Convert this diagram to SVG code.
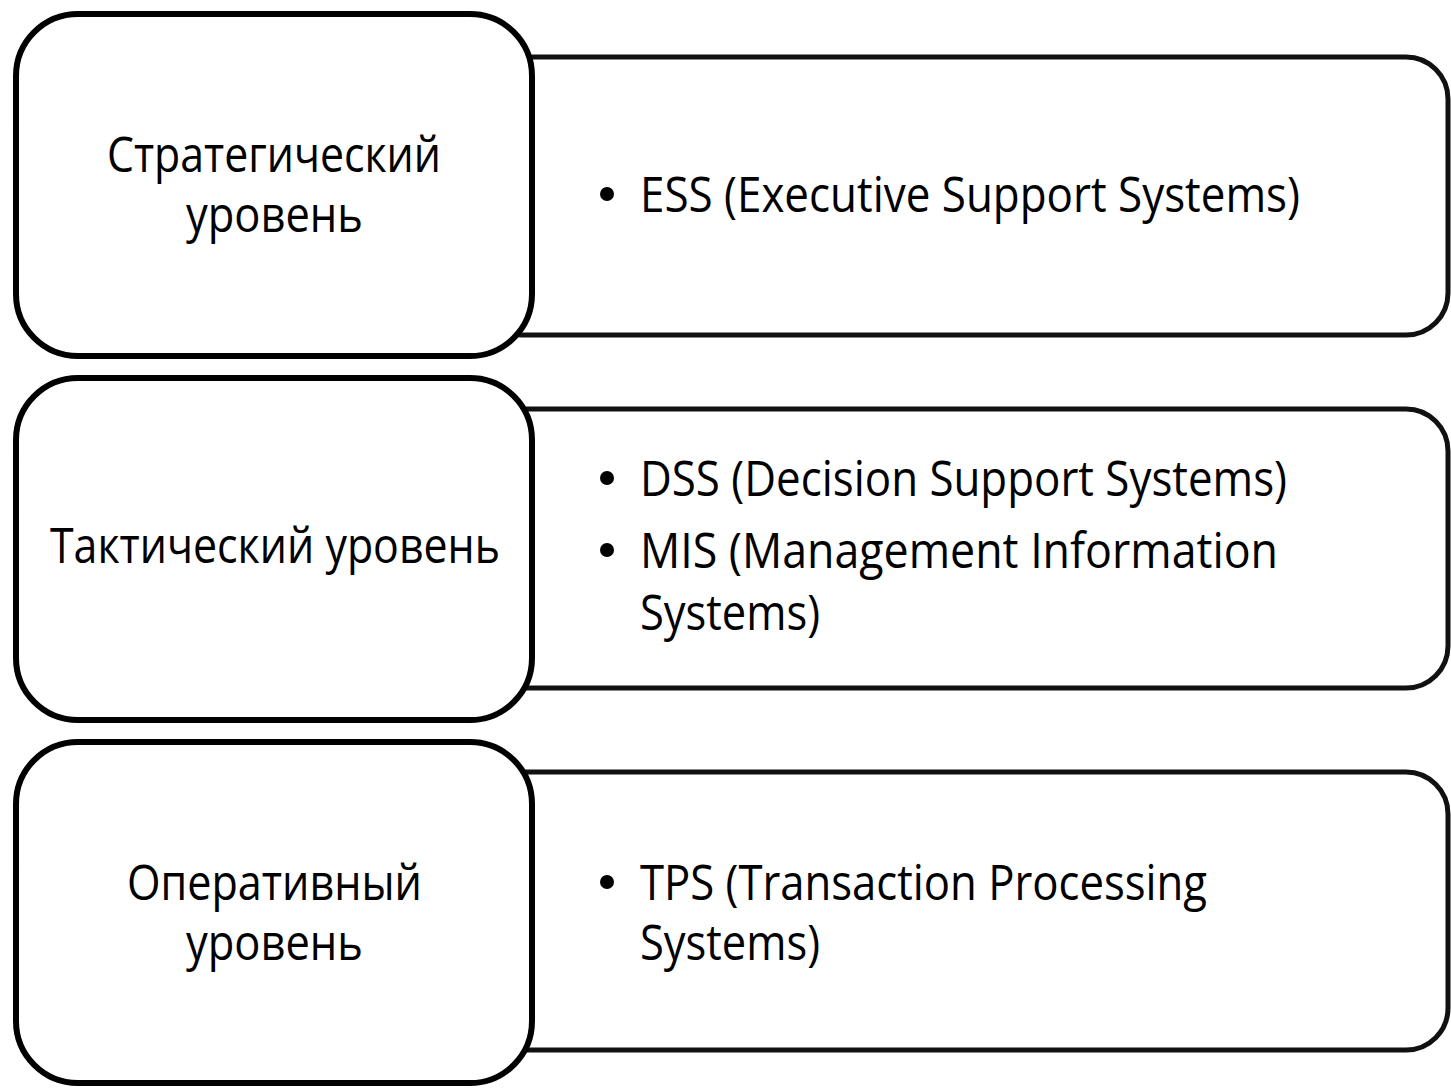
<svg xmlns="http://www.w3.org/2000/svg" width="1451" height="1088" viewBox="0 0 1451 1088">
<style>
.lv{fill:#fff;stroke:#000;stroke-width:6}
.it{fill:#fff;stroke:#111;stroke-width:5}
text{font-family:"Open Sans","Noto Sans","DejaVu Sans",sans-serif;font-size:50px;fill:#000}
.b{fill:#000}
</style>
<rect width="1451" height="1088" fill="#fff"/>
<g id="items-strategic">
<rect class="it" x="480" y="57" width="968" height="278" rx="42"/>
<circle class="b" cx="607" cy="194" r="7"/>
<text x="640" y="212" textLength="660" lengthAdjust="spacingAndGlyphs">ESS (Executive Support Systems)</text>
</g>
<g id="items-tactical">
<rect class="it" x="480" y="409" width="968" height="279" rx="42"/>
<circle class="b" cx="607" cy="478" r="7"/>
<text x="640" y="496" textLength="647" lengthAdjust="spacingAndGlyphs">DSS (Decision Support Systems)</text>
<circle class="b" cx="607" cy="550" r="7"/>
<text x="640" y="568" textLength="638" lengthAdjust="spacingAndGlyphs">MIS (Management Information</text>
<text x="640" y="630" textLength="180" lengthAdjust="spacingAndGlyphs">Systems)</text>
</g>
<g id="items-operational">
<rect class="it" x="480" y="772" width="968" height="278" rx="42"/>
<circle class="b" cx="607" cy="882" r="7"/>
<text x="640" y="900" textLength="567" lengthAdjust="spacingAndGlyphs">TPS (Transaction Processing</text>
<text x="640" y="960" textLength="180" lengthAdjust="spacingAndGlyphs">Systems)</text>
</g>
<g id="level-strategic">
<rect class="lv" x="16" y="14" width="516" height="342" rx="62"/>
<text x="107" y="172" textLength="334" lengthAdjust="spacingAndGlyphs">Стратегический</text>
<text x="186" y="232" textLength="177" lengthAdjust="spacingAndGlyphs">уровень</text>
</g>
<g id="level-tactical">
<rect class="lv" x="16" y="378" width="516" height="342" rx="62"/>
<text x="50" y="563" textLength="450" lengthAdjust="spacingAndGlyphs">Тактический уровень</text>
</g>
<g id="level-operational">
<rect class="lv" x="16" y="742" width="516" height="341" rx="62"/>
<text x="127" y="900" textLength="295" lengthAdjust="spacingAndGlyphs">Оперативный</text>
<text x="186" y="960" textLength="177" lengthAdjust="spacingAndGlyphs">уровень</text>
</g>
</svg>
